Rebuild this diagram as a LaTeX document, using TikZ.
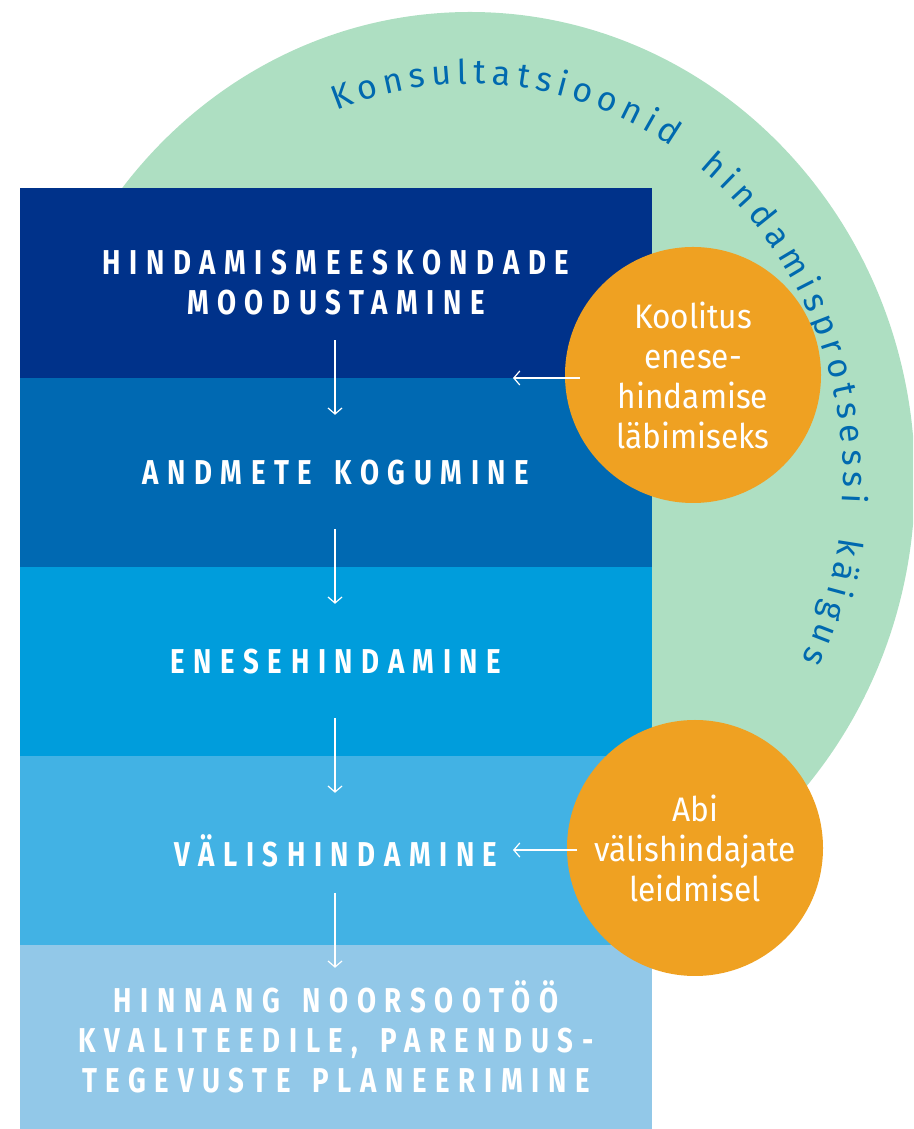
\documentclass[tikz,border=0pt]{standalone}
\usepackage{fontspec}
\setmainfont{Fira Sans}
\newfontfamily\boxfont{Fira Sans}[FakeStretch=0.8,LetterSpace=25]
\newfontfamily\circfont{Fira Sans}[FakeStretch=0.93]
\newfontfamily\arcfont{Fira Sans}
\usetikzlibrary{arrows.meta,decorations.text}
\definecolor{bandA}{RGB}{0,50,138}
\definecolor{bandB}{RGB}{0,105,178}
\definecolor{bandC}{RGB}{0,157,220}
\definecolor{bandD}{RGB}{66,178,228}
\definecolor{bandE}{RGB}{146,200,232}
\definecolor{ringgreen}{RGB}{174,223,194}
\definecolor{orb}{RGB}{239,161,34}
\definecolor{arcblue}{RGB}{0,105,175}
\newcommand\wsp{\hspace{22pt}}
\tikzset{
  bandbox/.style={rectangle, inner sep=0pt, minimum width=632pt, text=white, align=center,
    font=\boxfont\bfseries\fontsize{34.5}{40}\selectfont},
  orbnode/.style={circle, fill=orb, inner sep=0pt, minimum size=256pt, text=white, align=center,
    font=\circfont\fontsize{34}{40}\selectfont},
  arr/.style={draw=white, line width=1.2pt, -{Straight Barb[length=6pt,width=14pt,line width=1.2pt]}}
}
\begin{document}
\begin{tikzpicture}[x=1pt,y=1pt]
\useasboundingbox (0,0) rectangle (913,1129);
\begin{scope}
\clip (0,0) rectangle (913,1129);
\fill[ringgreen] (470,649) ellipse [x radius=445pt, y radius=468pt];
\end{scope}
\path[decorate, decoration={text along path, text color=arcblue,
  text={|\arcfont\fontsize{34}{34}\selectfont|Konsultatsioonid{\kern8pt} hindamisprotsessi{\kern8pt} käigus},
  text align={fit to path}}]
  (470,649) ++(111:373pt and 396pt) arc[start angle=111, end angle=-27, x radius=373pt, y radius=396pt];
\node[bandbox, fill=bandA, minimum height=190pt] (b1) at (336,846) {HINDAMISMEESKONDADE\\MOODUSTAMINE};
\node[bandbox, fill=bandB, minimum height=189pt] (b2) at (336,656.5) {ANDMETE\wsp KOGUMINE};
\node[bandbox, fill=bandC, minimum height=189pt] (b3) at (336,467.5) {ENESEHINDAMINE};
\node[bandbox, fill=bandD, minimum height=189pt] (b4) at (336,278.5) {VÄLISHINDAMINE};
\node[bandbox, fill=bandE, minimum height=184pt] (b5) at (336,92) {HINNANG\wsp NOORSOOTÖÖ\\KVALITEEDILE,\wsp PARENDUS-\\TEGEVUSTE\wsp PLANEERIMINE};
\draw[arr] ([xshift=-1pt,yshift=38pt]b1.south) -- ([xshift=-1pt,yshift=-37pt]b2.north);
\draw[arr] ([xshift=-1pt,yshift=38pt]b2.south) -- ([xshift=-1pt,yshift=-37pt]b3.north);
\draw[arr] ([xshift=-1pt,yshift=38pt]b3.south) -- ([xshift=-1pt,yshift=-37pt]b4.north);
\draw[arr] ([xshift=-1pt,yshift=52pt]b4.south) -- ([xshift=-1pt,yshift=-23pt]b5.north);
\node[orbnode] (c1) at (693,754) {Koolitus\\enese-\\hindamise\\läbimiseks};
\node[orbnode] (c2) at (695,281) {Abi\\välishindajate\\leidmisel};
\coordinate (t1) at (513,751);
\coordinate (t2) at (513,279);
\coordinate (s1) at ([xshift=15pt]c1.west);
\coordinate (s2) at ([xshift=10pt]c2.west);
\draw[arr] (s1 |- t1) -- (t1);
\draw[arr] (s2 |- t2) -- (t2);
\end{tikzpicture}
\end{document}
